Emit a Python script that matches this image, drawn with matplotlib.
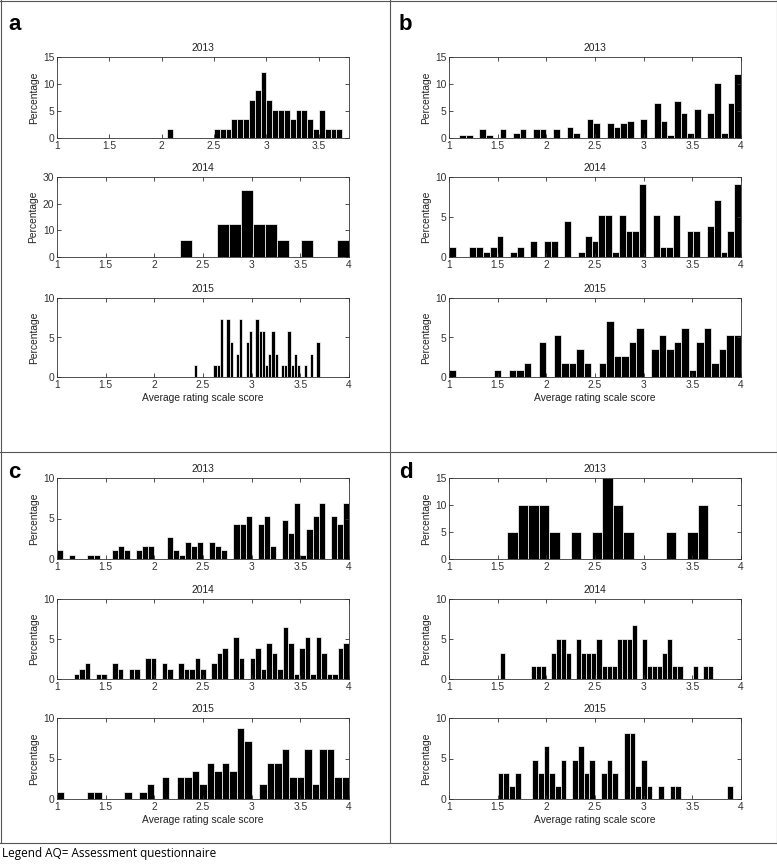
import matplotlib
matplotlib.use('Agg')
import matplotlib.pyplot as plt
import numpy as np
from matplotlib.lines import Line2D

plt.rcParams['font.family'] = ['Liberation Sans', 'DejaVu Sans']

# ---------------- data (percent per histogram bin) ----------------
years = ['2013', '2014', '2015']

# panel a
a2013_start, a2013_width = 2.054, 0.0557
a2013_pct = [1.75, 0, 0, 0, 0, 0, 0, 0, 1.75, 1.75, 1.75, 3.5, 3.5, 3.5, 7.0, 8.8,
             12.3, 7.0, 5.25, 5.25, 5.25, 3.5, 5.25, 5.25, 3.5, 1.75, 5.25, 1.75, 1.75, 1.75]
a2014_start, a2014_width = 2.268, 0.1237
a2014_pct = [6.25, 0, 0, 12.5, 12.5, 25, 12.5, 12.5, 6.25, 0, 6.25, 0, 0, 6.25]
a2015_start, a2015_width = 2.4095, 0.03305
a2015_pct = [1.47, 0, 0, 0, 0, 0, 1.47, 1.47, 7.35, 0, 7.35, 4.41, 0, 2.94, 7.35, 0,
             4.41, 5.88, 0, 7.35, 5.88, 5.88, 1.47, 2.94, 5.88, 2.94, 0, 1.47, 1.47,
             5.88, 1.47, 2.94, 1.47, 0, 1.47, 0, 2.94, 0, 4.41]

# panel b
b2013_start, b2013_width = 1.106, 0.0689
b2013_pct = [0.5, 0.5, 0, 1.6, 0.5, 0, 1.6, 0, 1.0, 1.6, 0, 1.6, 1.6, 0, 1.6, 0,
             2.1, 1.0, 0, 3.6, 2.7, 0, 2.7, 2.1, 2.7, 3.2, 0, 3.6, 0, 6.4, 3.2, 0.5,
             6.9, 4.7, 1.0, 5.3, 0, 4.7, 10.2, 1.0, 6.4, 11.8]
b2014_start, b2014_width = 1.0, 3 / 43
b2014_pct = [1.3, 0, 0, 1.3, 1.3, 0.65, 1.3, 2.6, 0, 0.65, 1.3, 0, 1.95, 0, 1.95,
             1.95, 0, 4.5, 0, 0.65, 2.6, 1.95, 5.2, 5.2, 0.65, 5.2, 3.25, 3.25, 9.1,
             0, 5.2, 1.3, 1.3, 5.2, 0, 3.25, 3.25, 0, 3.9, 7.1, 0.65, 3.25, 9.1]
b2015_start, b2015_width = 1.0, 3 / 39
b2015_pct = [0.9, 0, 0, 0, 0, 0, 0.9, 0, 0.9, 0.9, 1.8, 0, 4.4, 0, 5.3, 1.8, 1.8,
             3.5, 1.8, 0, 1.8, 7.1, 2.7, 2.7, 4.4, 6.2, 0, 3.5, 5.3, 3.5, 4.4, 6.2,
             0.9, 4.4, 6.2, 1.8, 3.5, 5.3, 5.3]

# panel c
c2013_start, c2013_width = 1.0, 3 / 48
c2013_pct = [1.1, 0, 0.5, 0, 0, 0.5, 0.5, 0, 0, 1.1, 1.6, 1.1, 0, 1.1, 1.6, 1.6, 0,
             0, 2.7, 1.1, 0.5, 2.1, 1.6, 2.1, 0, 2.1, 1.6, 1.1, 0, 4.3, 4.3, 5.3, 0,
             4.3, 5.3, 1.6, 0, 4.8, 3.2, 6.9, 0.5, 3.7, 5.3, 6.9, 0, 5.3, 4.3, 6.9]
c2014_start, c2014_width = 1.0, 3 / 53
c2014_pct = [0, 0, 0, 0.65, 1.3, 1.95, 0, 0.65, 0.65, 0, 1.95, 1.3, 0, 1.3, 1.3, 0,
             2.6, 2.6, 0, 1.95, 1.3, 0, 1.95, 1.3, 1.3, 2.6, 1.3, 0, 1.95, 3.25, 3.9,
             0, 5.2, 2.6, 0, 2.6, 3.9, 1.3, 4.5, 3.25, 1.3, 6.5, 4.5, 0.65, 3.9, 5.2,
             0.65, 5.2, 3.25, 0.65, 0.65, 3.9, 4.5]
c2015_start, c2015_width = 1.0, 3 / 39
c2015_pct = [0.9, 0, 0, 0, 0.9, 0.9, 0, 0, 0, 0.9, 0, 0.9, 1.8, 0, 2.7, 0, 2.7, 2.7,
             3.5, 1.8, 4.4, 3.5, 4.4, 3.5, 8.8, 7.1, 0, 1.8, 4.4, 4.4, 6.2, 2.7, 2.7,
             6.2, 1.8, 6.2, 6.2, 2.7, 2.7]

# panel d
d2013_start, d2013_width = 1.596, 0.1088
d2013_pct = [5, 10, 10, 10, 5, 0, 5, 0, 5, 15, 10, 5, 0, 0, 0, 5, 0, 5, 10]
d2014_start, d2014_width = 1.527, 0.052
d2014_pct = [3.3, 0, 0, 0, 0, 0, 1.65, 1.65, 1.65, 0, 3.3, 5, 5, 3.3, 0, 5, 3.3,
             3.3, 3.3, 5, 1.65, 1.65, 1.65, 5, 5, 5, 6.7, 0, 5, 1.65, 1.65, 1.65,
             3.3, 5, 1.65, 1.65, 0, 0, 1.65, 0, 1.65, 1.65]
d2015_start, d2015_width = 1.5, 0.0589
d2015_pct = [3.2, 3.2, 1.6, 3.2, 0, 0, 4.8, 3.2, 6.5, 3.2, 1.6, 4.8, 0, 4.8, 6.5,
             3.2, 4.8, 0, 3.2, 4.8, 3.2, 0, 8.1, 8.1, 1.6, 4.8, 1.6, 0, 1.6, 0, 1.6,
             1.6, 0, 0, 0, 0, 0, 0, 0, 0, 1.6]

panels = {
    'a': [(a2013_start, a2013_width, a2013_pct, 15, 3.79),
          (a2014_start, a2014_width, a2014_pct, 30, 4.0),
          (a2015_start, a2015_width, a2015_pct, 10, 4.0)],
    'b': [(b2013_start, b2013_width, b2013_pct, 15, 4.0),
          (b2014_start, b2014_width, b2014_pct, 10, 4.0),
          (b2015_start, b2015_width, b2015_pct, 10, 4.0)],
    'c': [(c2013_start, c2013_width, c2013_pct, 10, 4.0),
          (c2014_start, c2014_width, c2014_pct, 10, 4.0),
          (c2015_start, c2015_width, c2015_pct, 10, 4.0)],
    'd': [(d2013_start, d2013_width, d2013_pct, 15, 4.0),
          (d2014_start, d2014_width, d2014_pct, 10, 4.0),
          (d2015_start, d2015_width, d2015_pct, 10, 4.0)],
}

# ---------------- layout ----------------
W, H = 777, 864
fig = plt.figure(figsize=(W / 100, H / 100), dpi=100)

col_lr = {'a': (57, 349), 'b': (449, 741), 'c': (57, 349), 'd': (449, 741)}
rows_top = [(57, 138), (177, 257), (298, 377)]
rows_bot = [(478, 559), (599, 679), (718, 799)]
panel_rows = {'a': rows_top, 'b': rows_top, 'c': rows_bot, 'd': rows_bot}
label_pos = {'a': (8, 30), 'b': (399, 30), 'c': (8, 478), 'd': (399, 478)}

FS = 7.4
for key, subs in panels.items():
    left, right = col_lr[key]
    for i, (start, width, pct, ymax, xmax) in enumerate(subs):
        top, bottom = panel_rows[key][i]
        ax = fig.add_axes([left / W, 1 - bottom / H, (right - left) / W, (bottom - top) / H])
        pct = np.asarray(pct, dtype=float)
        centers = start + width * (np.arange(len(pct)) + 0.5)
        m = pct > 0
        ax.bar(centers[m], pct[m], width=width, color='black', edgecolor='white',
               linewidth=0.5)
        ax.set_xlim(1, xmax)
        ax.set_ylim(0, ymax)
        ax.set_xticks([1, 1.5, 2, 2.5, 3, 3.5, 4] if xmax >= 4 else [1, 1.5, 2, 2.5, 3, 3.5])
        ax.set_xticklabels(['1', '1.5', '2', '2.5', '3', '3.5', '4'][:len(ax.get_xticks())])
        step = 10 if ymax == 30 else 5
        ax.set_yticks(np.arange(0, ymax + 0.1, step))
        ax.tick_params(direction='in', length=3, width=0.6, top=True, right=True,
                       labelsize=FS, pad=2, colors='#333333')
        for s in ax.spines.values():
            s.set_linewidth(0.6)
            s.set_color('#333333')
        ax.set_title(years[i], fontsize=FS, pad=4, color='#222222')
        ax.set_ylabel('Percentage', fontsize=FS, labelpad=3, color='#222222')
        if i == 2:
            ax.set_xlabel('Average rating scale score', fontsize=FS, labelpad=2,
                          color='#222222')
    lx, ly = label_pos[key]
    fig.text(lx / W, 1 - ly / H, key, fontsize=16, fontweight='bold',
             ha='left', va='baseline')

# panel frame lines
def hline(y, x0, x1):
    fig.add_artist(Line2D([x0 / W, x1 / W], [1 - y / H, 1 - y / H], color='#555555', lw=0.8))

def vline(x, y0, y1):
    fig.add_artist(Line2D([x / W, x / W], [1 - y0 / H, 1 - y1 / H], color='#555555', lw=0.8))

hline(0.5, 0, W)
hline(452, 0, W)
hline(843, 0, W)
vline(0.5, 0, 843)
vline(390.5, 0, 843)
vline(776.5, 0, 843)

fig.text(2 / W, 1 - 853 / H, 'Legend AQ= Assessment questionnaire', fontsize=8.5,
         family=['Open Sans', 'DejaVu Sans'], ha='left', va='center')

fig.savefig('out.png', dpi=100)
